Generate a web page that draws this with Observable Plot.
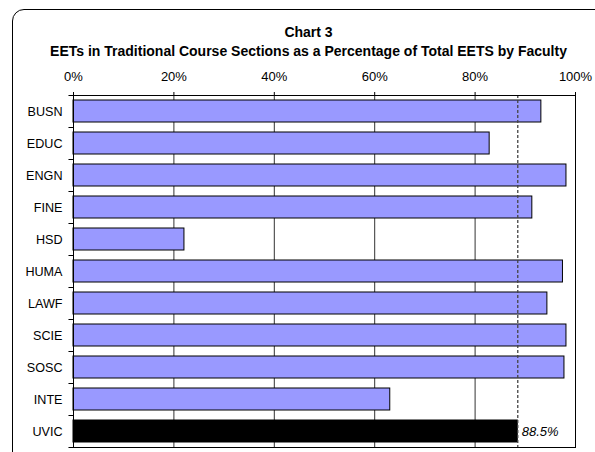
<!DOCTYPE html>
<html><head><meta charset="utf-8">
<script src="https://cdn.jsdelivr.net/npm/d3@7"></script>
<script src="https://cdn.jsdelivr.net/npm/@observablehq/plot@0.6"></script>
<style>
body{margin:0;background:#fff;font-family:"Liberation Sans",Arial,sans-serif;}
#wrap{position:relative;width:595px;height:452px;overflow:hidden;background:#fff;}
#chart{position:absolute;left:0;top:0;}
#frame{position:absolute;left:12px;top:9px;width:620px;height:480px;border:1px solid #000;border-radius:12px;box-sizing:border-box;pointer-events:none;}
.t{position:absolute;left:0;width:617px;text-align:center;font-weight:bold;font-size:14px;line-height:16px;color:#000;white-space:nowrap;}
</style></head><body>
<div id="wrap">
  <div id="chart"></div>
  <div id="frame"></div>
  <div class="t" style="top:24px">Chart 3</div>
  <div class="t" style="top:43px">EETs in Traditional Course Sections as a Percentage of Total EETS by Faculty</div>
</div>
<script>
const categories = ["BUSN","EDUC","ENGN","FINE","HSD","HUMA","LAWF","SCIE","SOSC","INTE","UVIC"];
const values = [93.2, 82.9, 98.2, 91.4, 22.1, 97.5, 94.4, 98.2, 97.8, 63.1, 88.5];
const totalCategory = "UVIC";
const referenceValue = 88.5;
const xTicks = [0, 20, 40, 60, 80, 100];
const gridTicks = [20, 40, 60, 80];

const data = categories.map((c, i) => ({cat: c, value: values[i]}));
const faculties = data.filter(d => d.cat !== totalCategory);
const total = data.filter(d => d.cat === totalCategory);

const W = 595, H = 452, mT = 95, mB = 5, mL = 73, mR = 20;
const step = (H - mT - mB) / categories.length;
const fs = 13;

const plot = Plot.plot({
  width: W, height: H,
  marginTop: mT, marginBottom: mB, marginLeft: mL, marginRight: mR,
  style: {fontFamily: "'Liberation Sans', Arial, sans-serif", fontSize: fs + "px", background: "transparent", color: "#000"},
  x: {domain: [0, 100], axis: null},
  y: {domain: categories, paddingInner: 0.325, paddingOuter: 0.1625, axis: null},
  marks: [
    Plot.ruleX(gridTicks, {stroke: "#333", strokeWidth: 1}),
    Plot.barX(faculties, {y: "cat", x: "value", fill: "#9999ff", stroke: "#000", strokeWidth: 1}),
    Plot.barX(total, {y: "cat", x: "value", fill: "#000", stroke: "#000", strokeWidth: 1}),
    Plot.ruleX([referenceValue], {stroke: "#444", strokeWidth: 1.3, strokeDasharray: "3,2"}),
    Plot.text(total, {x: "value", y: "cat", text: d => d.value + "%", textAnchor: "start", dx: 4, fontStyle: "italic", fontSize: fs, fill: "#000"}),
    Plot.frame({stroke: "#000", strokeWidth: 1}),
    Plot.axisX({anchor: "top", ticks: xTicks, tickSize: 4, tickPadding: 11, tickFormat: d => d + "%", fontSize: fs, label: null, stroke: "#000"}),
    Plot.axisY({anchor: "left", tickSize: 0, tickPadding: 11, fontSize: fs - 0.4, label: null}),
    Plot.ruleY(categories, {y: d => d, x1: -0.9, x2: 0, dy: -step / 2, stroke: "#000"}),
    Plot.ruleY([totalCategory], {y: d => d, x1: -0.9, x2: 0, dy: step / 2, stroke: "#000"})
  ]
});
document.getElementById("chart").appendChild(plot);
</script>
</body></html>
